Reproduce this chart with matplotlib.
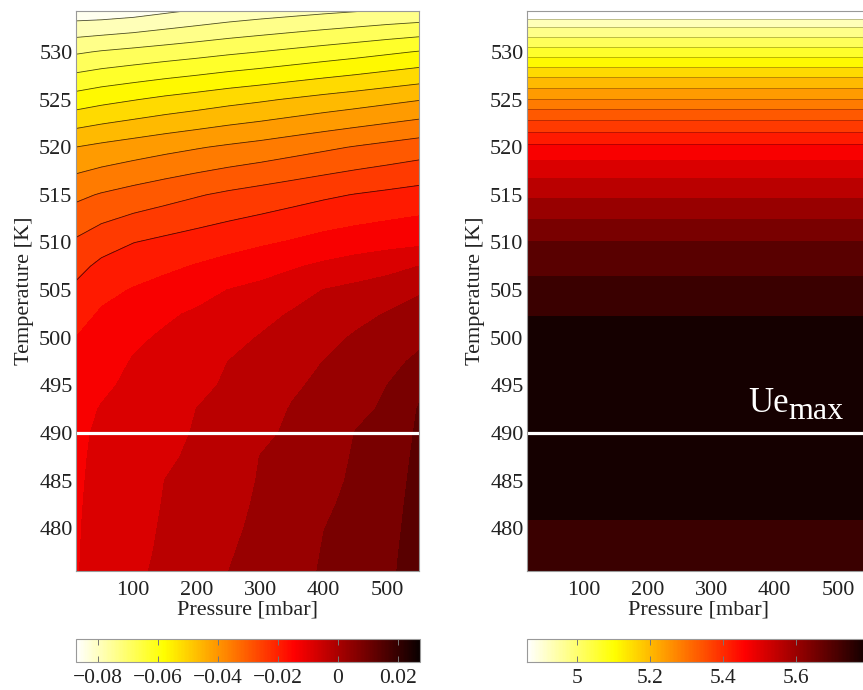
import numpy as np
import matplotlib
matplotlib.use("Agg")
import matplotlib.pyplot as plt
from matplotlib import colors, cm

plt.rcParams['font.family'] = ['Liberation Serif', 'DejaVu Serif']

# left map: grid values (units of 1e-4)
pressure = [10, 50, 100, 150, 200, 250, 300, 350, 400, 450, 500, 550]
temp_left = [475, 477.5, 480, 482.5, 485, 487.5, 490, 492.5, 495, 497.5, 500,
             502.5, 505, 507.5, 510, 515, 520, 525, 530, 535]
du_left = [
    [-112, -88, -65, -41, -27, 1, 19, 32, 62, 78, 91, 155],
    [-113, -91, -70, -45, -31, -4, 15, 28, 58, 75, 87, 149],
    [-113, -94, -74, -48, -35, -10, 11, 24, 54, 71, 82, 143],
    [-114, -96, -79, -51, -38, -17, 8, 19, 47, 67, 78, 137],
    [-115, -98, -83, -54, -42, -23, 4, 15, 39, 63, 73, 131],
    [-116, -100, -88, -62, -46, -29, 1, 11, 32, 60, 69, 125],
    [-118, -102, -92, -70, -50, -35, -9, 7, 24, 56, 64, 119],
    [-121, -107, -97, -79, -54, -42, -19, 3, 16, 46, 60, 113],
    [-126, -115, -102, -87, -66, -48, -30, -6, 9, 32, 55, 97],
    [-140, -129, -106, -95, -78, -54, -41, -21, 1, 19, 38, 66],
    [-163, -143, -117, -103, -90, -72, -51, -36, -16, 6, 20, 41],
    [-186, -157, -139, -116, -103, -90, -72, -50, -34, -15, 3, 19],
    [-208, -179, -160, -145, -126, -108, -96, -79, -53, -41, -29, -6],
    [-234, -206, -189, -174, -160, -146, -130, -115, -99, -85, -71, -54],
    [-265, -240, -219, -206, -194, -182, -171, -159, -145, -135, -127, -120],
    [-339, -323, -307, -292, -277, -263, -251, -239, -227, -216, -207, -198],
    [-436, -424, -411, -398, -386, -374, -363, -350, -337, -324, -312, -300],
    [-576, -562, -548, -534, -522, -509, -498, -486, -474, -463, -451, -439],
    [-716, -705, -695, -685, -675, -664, -654, -643, -632, -621, -609, -597],
    [-873, -873, -865, -850, -836, -823, -813, -805, -797, -790, -783, -778],
]
left_range = (-0.0873, 0.0273)
left_cticks = [-0.08, -0.06, -0.04, -0.02, 0, 0.02]
left_clabels = ['\u22120.08', '\u22120.06', '\u22120.04', '\u22120.02', '0', '0.02']

# right map: Ue depends on temperature only
temp_right = [475, 477.5, 480, 482.5, 485, 487.5, 490, 492.5, 495, 497.5, 500, 502.5,
              505, 507.5, 510, 512.5, 515, 517.5, 520, 522.5, 525, 527.5, 530, 532.5, 535]
ue_right = [5.72, 5.735, 5.75, 5.775, 5.79, 5.80, 5.803, 5.80, 5.795, 5.785, 5.77, 5.757,
            5.730, 5.702, 5.671, 5.623, 5.573, 5.518, 5.457, 5.368, 5.270, 5.169, 5.062,
            4.957, 4.83]
right_range = (4.863, 5.803)
right_cticks = [5, 5.2, 5.4, 5.6]
right_clabels = ['5', '5.2', '5.4', '5.6']

T_MARK = 490
n_levels = 22
cmap = plt.get_cmap('hot_r')
TXT = '#222222'

fig = plt.figure(figsize=(8.63, 6.9), dpi=100)

# left panel
ax1 = fig.add_axes([76/863, 119/690, 343/863, 560/690])
norm1 = colors.Normalize(*left_range)
lev1 = np.linspace(*left_range, n_levels)
fill1 = lev1.copy()
fill1[0] -= 1e-3
fill1[-1] += 1e-3
Z1 = np.array(du_left) * 1e-4
ax1.contourf(pressure, temp_left, Z1, levels=fill1, cmap=cmap, norm=norm1)
ax1.contour(pressure, temp_left, Z1, levels=lev1[1:13], colors='k', linewidths=0.6,
            alpha=0.7, linestyles='solid')

# right panel (runs past the right edge of the figure, as in the original)
ax2 = fig.add_axes([527/863, 119/690, 343/863, 560/690])
norm2 = colors.Normalize(*right_range)
lev2 = np.linspace(*right_range, n_levels)
fill2 = lev2.copy()
fill2[0] -= 0.05
fill2[-1] += 0.01
Z2 = np.repeat(np.array(ue_right)[:, None], 2, axis=1)
P2 = [pressure[0], pressure[-1]]
ax2.contourf(P2, temp_right, Z2, levels=fill2, cmap=cmap, norm=norm2)
ax2.contour(P2, temp_right, Z2, levels=lev2[1:14], colors='k', linewidths=0.6, alpha=0.3)

for ax in (ax1, ax2):
    ax.set_xlim(10, 550)
    ax.set_ylim(475.5, 534.3)
    ax.set_xticks([100, 200, 300, 400, 500])
    ax.set_yticks(np.arange(480, 531, 5))
    ax.tick_params(length=0, labelsize=16, labelcolor=TXT)
    ax.tick_params(axis='x', pad=7)
    ax.tick_params(axis='y', pad=2.5)
    ax.axhline(T_MARK, color='white', lw=2.3)
    ax.set_xlabel('Pressure [mbar]', fontsize=16, color=TXT)
    ax.set_ylabel('Temperature [K]', fontsize=16, color=TXT)
    ax.xaxis.set_label_coords(0.5, -0.053)
    ax.yaxis.set_label_coords(-0.122, 0.5)
    for s in ax.spines.values():
        s.set_color('#999999')
        s.set_linewidth(0.8)

ax2.text(0.644, 0.284, 'Ue', transform=ax2.transAxes, color='white', fontsize=25, va='baseline')
ax2.text(0.761, 0.271, 'max', transform=ax2.transAxes, color='white', fontsize=23, va='baseline')

# colorbars
cax1 = fig.add_axes([76/863, 28/690, 344/863, 23/690])
cb1 = fig.colorbar(cm.ScalarMappable(norm=norm1, cmap=cmap), cax=cax1, orientation='horizontal')
cb1.set_ticks(left_cticks)
cb1.set_ticklabels(left_clabels)
cax2 = fig.add_axes([527/863, 28/690, 343/863, 23/690])
cb2 = fig.colorbar(cm.ScalarMappable(norm=norm2, cmap=cmap), cax=cax2, orientation='horizontal')
cb2.set_ticks(right_cticks)
cb2.set_ticklabels(right_clabels)
for cax, cb in ((cax1, cb1), (cax2, cb2)):
    cax.tick_params(direction='in', top=True, bottom=True, length=4, width=0.7,
                    color='#777777', labelsize=15.5, labelcolor=TXT, pad=5)
    cb.outline.set_edgecolor('#999999')
    cb.outline.set_linewidth(0.8)

fig.savefig('out.png', dpi=100)
